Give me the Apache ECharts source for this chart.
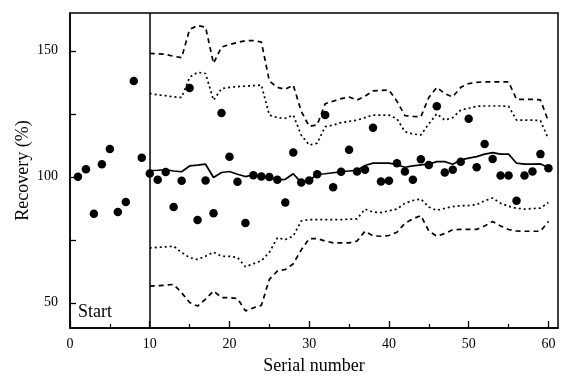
<!DOCTYPE html>
<html>
<head>
<meta charset="utf-8">
<script src="https://cdn.jsdelivr.net/npm/echarts@6/dist/echarts.min.js"></script>
<style>
  html, body { margin: 0; padding: 0; background: #fff; }
  #chart { width: 565px; height: 378px; }
</style>
</head>
<body>
<div id="chart"></div>
<script>
// individual recoveries, serial 1..60
const serial = [
  1, 2, 3, 4, 5, 6, 7, 8, 9, 10,
  11, 12, 13, 14, 15, 16, 17, 18, 19, 20,
  21, 22, 23, 24, 25, 26, 27, 28, 29, 30,
  31, 32, 33, 34, 35, 36, 37, 38, 39, 40,
  41, 42, 43, 44, 45, 46, 47, 48, 49, 50,
  51, 52, 53, 54, 55, 56, 57, 58, 59, 60
];
const recovery = [
  100, 103, 85.3, 105, 111, 86, 90, 138, 107.6, 101.3,
  98.8, 101.9, 88, 98.4, 135.2, 82.9, 98.5, 85.5, 125.3, 108,
  98, 81.7, 100.6, 100.1, 99.9, 98.8, 89.8, 109.6, 97.7, 98.5,
  101, 124.5, 95.9, 102, 110.7, 102.1, 102.8, 119.5, 98.1, 98.4,
  105.4, 102.1, 98.8, 107, 104.7, 128, 101.7, 102.8, 106, 123,
  103.8, 113, 107.1, 100.5, 100.5, 90.5, 100.5, 102.1, 109, 103.4
];

// running statistics from serial 10 onwards
const bandSerial = [
  10, 11, 12, 13, 14, 15, 16, 17, 18, 19, 20,
  21, 22, 23, 24, 25, 26, 27, 28, 29, 30,
  31, 32, 33, 34, 35, 36, 37, 38, 39, 40,
  41, 42, 43, 44, 45, 46, 47, 48, 49, 50,
  51, 52, 53, 54, 55, 56, 57, 58, 59, 60
];
const meanLine = [
  102.5, 102.6, 102.8, 102.3, 102, 104.3, 104.6, 105, 99.7, 101.7, 102.1,
  101, 100.1, 100.8, 100.4, 99.8, 98.8, 99, 101.2, 97.7, 98.5,
  101, 101.2, 101.6, 102, 102.3, 102.6, 104.5, 105.4, 105.4, 105.4,
  104.8, 103.8, 104.3, 104.7, 105, 106, 106, 105, 106.7, 107.4,
  108, 109, 109.6, 109, 109, 105.4, 105, 105, 105.1, 103.7
];
const upperOuter = [
  149, 148.8, 148.6, 147.8, 147.3, 158.5, 160, 159.4, 145, 151.5, 152.5,
  153.3, 154, 154, 153.5, 138, 135.5, 134.7, 136.4, 126, 120,
  120.6, 129, 130, 131, 131.7, 130.4, 132, 134.1, 134.3, 134.4,
  130, 124.3, 124, 123.8, 131.5, 135.5, 133, 131.7, 135.5, 137,
  137.5, 137.7, 137.7, 137.7, 137.7, 130.7, 130.7, 130.7, 130.5, 122
];
const upperInner = [
  133.1, 132.5, 132.2, 131.7, 131.5, 139.5, 141.5, 141, 130.4, 135, 135.5,
  135.8, 136, 136.2, 136.4, 124.5, 123.5, 123.2, 124.5, 116.5, 112.6,
  113.3, 119.9, 120.5, 121.5, 122, 122.5, 123.5, 124.5, 124.5, 124.5,
  123, 117.9, 117, 116.6, 121, 125, 122.5, 123.5, 126.5, 127.2,
  128, 128.1, 128.1, 128.1, 128, 122.5, 122.5, 122.5, 122.3, 115
];
const lowerInner = [
  71.8, 72, 72.2, 72.5, 70, 67.9, 67.2, 68.5, 70.1, 68.5, 68.4,
  68, 64.3, 65.5, 66.7, 70, 75.8, 75.1, 76.5, 82.5, 83,
  83, 83, 83, 83, 83.2, 83.3, 87.2, 86, 85.8, 86.5,
  87.2, 89.5, 90.6, 91.2, 88, 86.7, 87.5, 88.2, 88.5, 88.6,
  88.9, 90.5, 91.6, 89.5, 88.3, 87.5, 87.2, 87.4, 87.6, 89.8
];
const lowerOuter = [
  56.6, 56.8, 57, 57.3, 54, 50.1, 48.7, 51.5, 54.7, 52.1, 52,
  51.7, 46.8, 48, 49, 59.3, 62.6, 63.2, 65.5, 71, 75.5,
  75.5, 74.5, 73.8, 73.8, 73.8, 74.5, 78.4, 76.6, 76.4, 76.7,
  78, 81.5, 83.3, 84.6, 78.5, 76.4, 77.5, 79, 79.1, 79.1,
  79.1, 80.5, 82.3, 80.5, 79.1, 78.5, 78.4, 78.4, 78.4, 82.3
];

const yTicks = [50, 75, 100, 125, 150];
const yLabels = [50, 100, 150];
const xMajor = [0, 10, 20, 30, 40, 50, 60];
const xMinor = [5, 15, 25, 35, 45, 55];

const font = "Liberation Serif";
const ink = "#000";

function pairs(xs, ys) {
  return xs.map((x, i) => [x, ys[i]]);
}

function bandLine(values, type) {
  return {
    type: "line",
    xAxisIndex: 0,
    data: pairs(bandSerial, values),
    symbol: "none",
    smooth: false,
    lineStyle: { color: ink, width: 1.7, type: type },
    z: 2,
    silent: true
  };
}

const chart = echarts.init(document.getElementById("chart"));
chart.setOption({
  animation: false,
  backgroundColor: "#fff",
  grid: {
    left: 70, right: 7, top: 13, bottom: 50,
    outerBoundsMode: "none",
    containLabel: false,
    show: true, borderColor: ink, borderWidth: 1.5, backgroundColor: "transparent"
  },
  xAxis: [{
    type: "value",
    min: 0, max: 61.2,
    name: "Serial number",
    nameLocation: "middle",
    nameGap: 29,
    nameTextStyle: { fontFamily: font, fontSize: 18, color: ink },
    axisLine: { show: true, lineStyle: { color: ink, width: 1.5 } },
    axisTick: { inside: true, length: 7, customValues: xMajor, lineStyle: { color: ink, width: 1.3 } },
    axisLabel: { customValues: xMajor, fontFamily: font, fontSize: 14, color: ink, margin: 9 },
    splitLine: { show: false }
  }, {
    type: "value",
    position: "bottom",
    min: 0, max: 61.2,
    axisLine: { show: false },
    axisTick: { inside: true, length: 4, customValues: xMinor, lineStyle: { color: ink, width: 1.2 } },
    axisLabel: { show: false },
    splitLine: { show: false }
  }],
  yAxis: {
    type: "value",
    min: 40, max: 165,
    name: "Recovery (%)",
    nameLocation: "middle",
    nameGap: 38,
    nameMoveOverlap: false,
    nameTextStyle: { fontFamily: font, fontSize: 18, color: ink },
    axisLine: { show: true, lineStyle: { color: ink, width: 1.5 } },
    axisTick: { inside: true, length: 6, customValues: yTicks, lineStyle: { color: ink, width: 1.3 } },
    axisLabel: { customValues: yLabels, fontFamily: font, fontSize: 14, color: ink, margin: 12 },
    splitLine: { show: false }
  },
  graphic: [{
    type: "text",
    left: 78, top: 303,
    style: { text: "Start", font: "18px 'Liberation Serif'", fill: ink }
  }],
  series: [
    bandLine(upperOuter, [5, 4]),
    bandLine(upperInner, [2, 3]),
    bandLine(lowerInner, [2, 3]),
    bandLine(lowerOuter, [5, 4]),
    {
      type: "line",
      data: pairs(bandSerial, meanLine),
      symbol: "none",
      lineStyle: { color: ink, width: 1.7 },
      z: 2,
      silent: true,
      markLine: {
        silent: true,
        symbol: "none",
        label: { show: false },
        lineStyle: { color: ink, width: 1.5, type: "solid" },
        data: [{ xAxis: 10 }]
      }
    },
    {
      type: "scatter",
      data: pairs(serial, recovery),
      symbol: "circle",
      symbolSize: 8.5,
      itemStyle: { color: ink, opacity: 1 },
      z: 3
    }
  ]
});
</script>
</body>
</html>
